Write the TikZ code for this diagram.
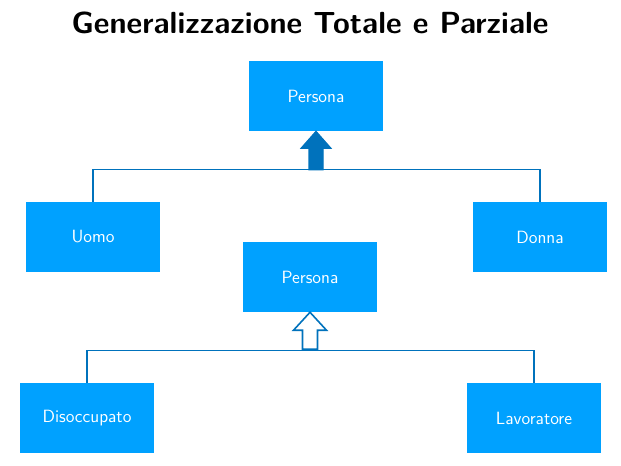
\documentclass[tikz,border=0pt]{standalone}
\usepackage{tikz}

\definecolor{boxblue}{RGB}{0,161,255}
\definecolor{linkblue}{RGB}{0,114,188}

\tikzset{
  entity/.style={fill=boxblue, draw=none, text=white, inner sep=0pt,
    minimum width=100.5pt, minimum height=52.5pt,
    font=\sffamily\fontsize{13.3}{16}\selectfont},
  link/.style={draw=linkblue, line width=1pt},
  fullhead/.style={draw=linkblue, fill=linkblue, line width=0.8pt, line join=miter},
  openhead/.style={draw=linkblue, fill=white, line width=1.2pt, line join=miter}
}

\begin{document}
\begin{tikzpicture}[x=0.75pt,y=0.75pt,yscale=-1,xscale=1]
\useasboundingbox (0,0) rectangle (621,466);

% Title
\node (title) at (310,23) {\sffamily\bfseries\fontsize{22.9}{27}\selectfont Generalizzazione Totale e Parziale};

% Totale
\node [entity] (persona1) at (316,96) {Persona};
\node [entity] (uomo) at (93,237) {Uomo};
\node [entity] (donna) at (540,237) {Donna};

% Parziale
\node [entity] (persona2) at (310,277) {Persona};
\node [entity] (disoccupato) at (87,418) {Disoccupato};
\node [entity] (lavoratore) at (534,418) {Lavoratore};

% Straight Lines
\draw [link] (uomo.north) -- ++(0,-32) -| (donna.north);
\draw [link] (disoccupato.north) -- ++(0,-32) -| (lavoratore.north);

% Block arrow, filled
\draw [fullhead] (persona1.south) -- ++(15,17) -- ++(-8,0) -- ++(0,21.5) -- ++(-14,0) -- ++(0,-21.5) -- ++(-8,0) -- cycle;
% Block arrow, open
\draw [openhead] (persona2.south) -- ++(16.5,18) -- ++(-9,0) -- ++(0,19) -- ++(-15,0) -- ++(0,-19) -- ++(-9,0) -- cycle;

\end{tikzpicture}
\end{document}
